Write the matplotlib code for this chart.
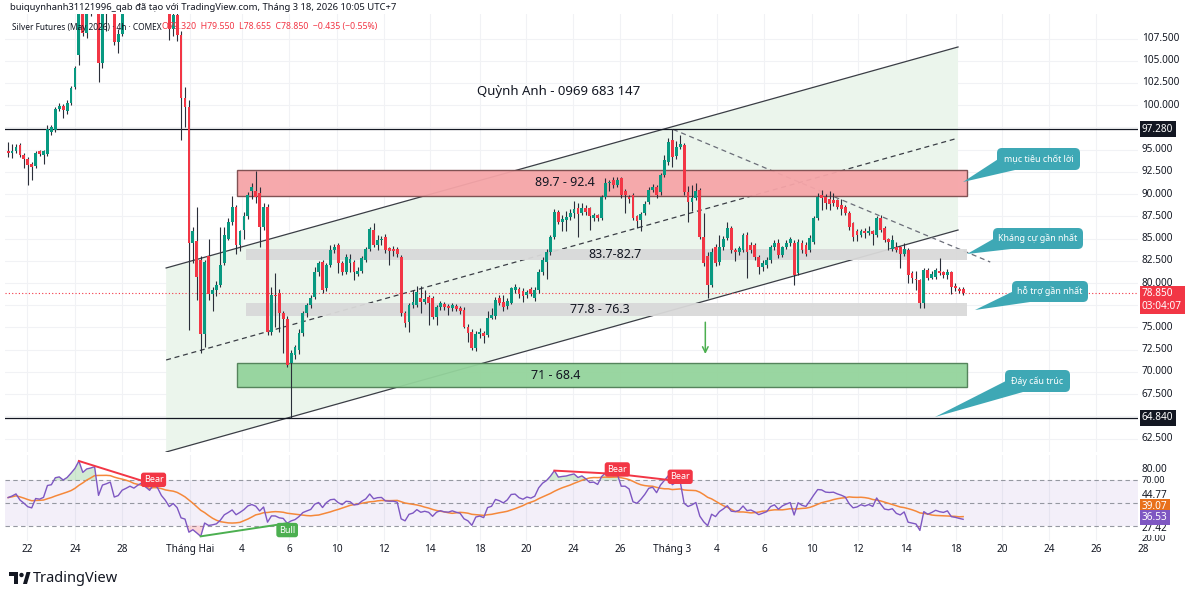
import numpy as np
import pandas as pd
import matplotlib
matplotlib.use('Agg')
import matplotlib.pyplot as plt
import matplotlib.transforms as mtransforms
from matplotlib.patches import Rectangle, Polygon, FancyBboxPatch, Circle

plt.rcParams['font.family'] = ['Noto Sans', 'DejaVu Sans']

# ---- 4h candles, Silver Futures ----
opens = [
    94.8, 94.6, 94.8, 95.5, 94.4, 94.0, 93.4, 93.2, 94.8, 94.4,
    94.5, 97.0, 97.2, 99.6, 99.9, 99.3, 100.3, 102.0, 105.6, 110.8,
    108.1, 110.8, 111.6, 112.8, 104.7, 111.2, 112.2, 112.5, 107.1, 108.0,
    111.6, 113.0, 114.6, 113.8, 115.9, 117.6, 116.1, 114.8, 118.9, 117.6,
    114.3, 112.0, 108.6, 110.2, 107.9, 100.8, 99.8, 84.5, 84.7, 82.6,
    74.3, 83.0, 78.8, 79.2, 79.8, 82.2, 85.0, 86.9, 88.6, 84.3,
    86.0, 87.5, 90.3, 90.3, 90.1, 86.3, 88.6, 74.5, 78.6, 78.9,
    76.6, 76.0, 71.0, 71.9, 72.5, 74.4, 76.6, 77.5, 78.4, 81.2,
    82.4, 79.4, 82.0, 83.7, 84.3, 82.2, 81.2, 82.3, 82.4, 81.0,
    81.3, 82.6, 83.8, 86.0, 84.3, 84.8, 85.2, 83.9, 83.8, 83.8,
    82.9, 76.6, 75.6, 77.5, 77.5, 78.3, 77.9, 78.4, 78.3, 76.2,
    77.3, 77.6, 77.4, 77.2, 77.4, 77.2, 77.0, 75.1, 74.5, 72.7,
    74.3, 74.4, 74.2, 76.1, 76.3, 78.3, 77.9, 77.4, 77.8, 79.2,
    79.3, 79.1, 78.6, 79.3, 78.3, 79.2, 81.2, 82.4, 83.5, 85.2,
    88.0, 86.9, 87.1, 87.4, 87.9, 88.4, 87.9, 88.4, 88.4, 87.3,
    87.6, 87.3, 89.7, 91.2, 91.6, 91.0, 91.8, 90.4, 89.7, 89.9,
    87.5, 87.1, 87.9, 89.1, 90.5, 90.8, 90.2, 92.1, 93.6, 96.1,
    94.3, 95.3, 95.5, 90.2, 89.1, 89.6, 90.5, 85.2, 83.0, 79.8,
    84.1, 82.4, 84.0, 85.1, 86.2, 83.7, 83.5, 83.7, 85.4, 84.3,
    84.3, 82.9, 81.8, 82.0, 82.6, 84.0, 84.5, 83.1, 84.0, 84.5,
    84.5, 81.1, 84.5, 84.3, 83.7, 84.6, 87.3, 89.9, 89.7, 89.5,
    89.3, 89.3, 88.8, 88.6, 87.9, 86.7, 85.9, 85.4, 85.9, 85.6,
    85.8, 85.4, 87.3, 86.2, 84.9, 83.8, 84.0, 84.0, 83.3, 83.7,
    81.1, 80.5, 80.3, 77.8, 81.5, 80.6, 80.7, 81.3, 81.2, 80.9,
    81.2, 79.7, 79.3, 79.32,
]
highs = [
    95.9, 95.6, 95.6, 95.8, 94.6, 94.2, 93.6, 94.8, 95.0, 95.0,
    97.8, 97.8, 99.8, 100.2, 100.1, 100.6, 102.2, 104.4, 111.0, 111.5,
    111.3, 112.4, 113.5, 113.2, 111.8, 113.0, 114.2, 113.0, 108.6, 112.2,
    113.8, 115.2, 115.5, 116.4, 118.2, 118.5, 116.8, 119.4, 121.2, 118.1,
    115.0, 112.5, 111.0, 110.8, 108.3, 102.0, 100.6, 86.3, 88.6, 83.0,
    82.6, 85.0, 79.6, 80.2, 86.3, 86.3, 87.3, 89.8, 88.8, 86.0,
    88.0, 90.2, 91.2, 92.6, 90.8, 89.0, 88.9, 79.5, 81.1, 79.3,
    76.8, 76.3, 72.5, 73.0, 74.8, 76.9, 77.8, 78.6, 81.8, 82.5,
    82.6, 82.3, 84.3, 84.4, 84.5, 82.5, 83.3, 83.3, 82.6, 81.8,
    83.0, 84.1, 86.3, 86.8, 85.4, 85.3, 85.5, 84.0, 84.2, 84.0,
    83.2, 76.9, 77.8, 79.2, 79.7, 79.7, 79.2, 78.6, 78.5, 77.5,
    78.0, 77.9, 77.6, 77.8, 77.6, 77.4, 77.3, 75.4, 74.8, 74.6,
    74.9, 74.6, 76.8, 77.2, 78.4, 78.6, 78.7, 78.3, 79.6, 79.9,
    79.5, 79.4, 79.2, 79.5, 79.5, 81.6, 82.9, 83.8, 85.4, 88.3,
    88.2, 87.6, 88.1, 88.3, 89.2, 89.0, 89.0, 88.8, 88.6, 87.9,
    87.8, 89.9, 91.8, 91.6, 91.9, 91.9, 91.9, 90.6, 89.9, 90.1,
    87.7, 88.0, 89.2, 90.8, 91.1, 91.0, 92.4, 94.4, 96.3, 97.28,
    96.0, 96.6, 95.8, 90.9, 91.0, 91.3, 90.7, 87.9, 83.5, 83.9,
    84.4, 85.4, 85.3, 86.9, 86.4, 83.9, 84.2, 85.6, 85.7, 84.6,
    84.5, 83.1, 82.6, 82.9, 84.3, 84.8, 84.9, 84.2, 84.8, 85.2,
    84.8, 84.9, 84.8, 84.6, 85.4, 87.5, 90.1, 90.5, 90.0, 90.3,
    90.1, 89.5, 89.4, 88.8, 88.1, 86.9, 86.1, 86.1, 86.2, 86.4,
    86.0, 87.5, 87.7, 86.4, 85.1, 85.4, 84.6, 84.2, 84.5, 83.9,
    81.3, 81.3, 80.5, 81.7, 81.7, 81.3, 81.7, 82.8, 81.4, 81.6,
    81.4, 80.0, 79.5, 79.55,
]
lows = [
    94.2, 94.1, 94.6, 94.2, 92.9, 91.0, 91.6, 92.9, 94.3, 93.4,
    94.3, 96.6, 97.0, 99.3, 98.6, 99.0, 100.0, 101.8, 104.5, 107.8,
    107.6, 110.0, 110.8, 102.6, 104.2, 108.4, 111.4, 106.8, 105.9, 107.8,
    111.0, 112.4, 112.9, 113.2, 115.1, 115.4, 114.3, 114.2, 117.0, 113.2,
    110.8, 107.3, 107.8, 107.2, 96.1, 97.5, 74.7, 82.2, 78.1, 72.1,
    72.8, 78.1, 76.8, 78.5, 79.5, 82.0, 84.8, 86.5, 83.3, 83.6,
    85.0, 87.2, 89.5, 89.0, 84.1, 86.0, 74.2, 74.2, 75.1, 74.5,
    72.1, 70.6, 64.84, 71.5, 72.0, 74.0, 76.2, 77.2, 78.2, 80.8,
    78.9, 79.1, 81.8, 83.4, 81.1, 80.9, 81.0, 81.2, 80.3, 80.8,
    81.1, 82.4, 83.6, 84.0, 83.7, 84.3, 83.4, 82.0, 83.0, 82.9,
    76.3, 75.0, 74.5, 77.2, 77.3, 76.6, 77.6, 75.3, 75.9, 75.3,
    77.0, 77.0, 76.4, 76.9, 76.8, 76.5, 74.9, 73.4, 72.5, 72.4,
    73.8, 73.2, 73.9, 75.9, 76.0, 77.5, 76.9, 77.1, 77.6, 78.9,
    78.3, 77.9, 78.3, 78.5, 78.0, 78.9, 80.9, 80.5, 83.2, 85.0,
    86.6, 85.9, 85.9, 87.1, 87.3, 85.2, 87.6, 87.7, 86.0, 87.0,
    87.0, 87.1, 89.5, 90.4, 90.7, 90.8, 89.6, 87.9, 89.0, 87.1,
    86.2, 85.8, 87.7, 88.9, 90.2, 89.6, 89.9, 91.9, 93.3, 93.0,
    93.9, 95.1, 89.9, 86.9, 88.1, 89.3, 85.0, 81.9, 78.3, 79.5,
    81.9, 82.0, 83.7, 84.8, 83.4, 82.5, 83.2, 83.5, 80.6, 83.4,
    82.6, 81.0, 81.3, 81.7, 82.3, 83.7, 82.8, 82.9, 83.8, 84.2,
    79.8, 80.9, 83.4, 83.0, 83.5, 84.4, 87.1, 88.2, 88.3, 88.2,
    88.7, 88.3, 87.7, 87.6, 86.0, 84.7, 84.7, 85.2, 85.1, 85.4,
    84.3, 85.2, 85.7, 84.6, 83.7, 83.6, 83.5, 81.7, 83.0, 80.0,
    80.0, 79.2, 77.2, 77.2, 80.3, 80.4, 80.5, 80.9, 80.6, 80.5,
    78.8, 79.1, 78.9, 78.655,
]
closes = [
    94.6, 94.9, 95.3, 94.4, 93.9, 93.3, 93.1, 94.6, 94.5, 94.8,
    97.3, 97.5, 99.6, 99.9, 99.5, 100.3, 101.9, 104.2, 110.3, 108.1,
    110.8, 111.6, 112.8, 104.7, 111.2, 112.2, 113.5, 107.1, 108.0, 111.6,
    113.0, 114.6, 113.8, 115.9, 117.6, 116.1, 114.8, 118.9, 117.6, 114.3,
    112.0, 108.6, 110.2, 107.9, 100.8, 99.8, 84.5, 85.8, 80.7, 74.3,
    82.4, 78.8, 79.2, 79.8, 82.0, 85.4, 86.9, 88.6, 84.3, 85.8,
    87.5, 89.9, 90.8, 89.7, 86.3, 88.6, 74.5, 78.6, 78.5, 76.6,
    76.0, 70.8, 72.1, 72.8, 74.4, 76.6, 77.5, 78.3, 81.2, 82.2,
    79.2, 82.0, 83.7, 84.0, 82.2, 81.2, 82.9, 82.7, 81.2, 81.4,
    82.8, 83.8, 86.1, 84.3, 84.8, 84.9, 83.7, 83.6, 83.6, 83.3,
    76.6, 75.5, 77.5, 77.9, 79.0, 77.9, 78.2, 77.8, 76.2, 77.3,
    77.7, 77.3, 77.2, 77.5, 77.1, 76.8, 75.1, 74.4, 72.7, 74.3,
    74.5, 74.0, 76.1, 76.4, 78.1, 77.8, 77.3, 78.0, 79.4, 79.5,
    78.8, 78.5, 79.0, 78.8, 79.2, 81.2, 82.6, 83.5, 85.2, 88.0,
    86.9, 87.2, 87.4, 87.9, 88.3, 87.8, 88.4, 88.0, 87.5, 87.6,
    87.3, 89.7, 91.2, 91.4, 91.0, 91.6, 89.9, 89.9, 89.5, 87.3,
    87.0, 87.8, 88.9, 90.5, 90.8, 89.9, 92.1, 93.8, 95.9, 94.2,
    95.3, 95.6, 90.2, 89.1, 89.6, 90.3, 85.2, 82.2, 79.8, 83.5,
    82.2, 84.0, 85.0, 86.2, 83.7, 83.5, 83.9, 85.4, 83.5, 83.7,
    82.9, 81.8, 82.2, 82.6, 84.0, 84.5, 83.1, 84.0, 84.5, 84.9,
    80.9, 84.6, 83.7, 83.3, 85.1, 87.3, 89.7, 89.6, 89.0, 88.9,
    89.0, 88.6, 88.3, 87.9, 86.3, 85.2, 85.4, 85.9, 85.6, 85.9,
    85.5, 87.3, 86.0, 84.8, 84.6, 84.8, 83.7, 83.3, 83.8, 80.9,
    80.6, 80.3, 77.8, 81.5, 80.6, 81.0, 81.5, 81.1, 80.9, 81.2,
    79.6, 79.4, 79.1, 78.85,
]

# time axis (candle index positions of the date labels)
time_labels = ['22', '24', '28', 'Tháng Hai', '4', '6', '10', '12', '14', '18', '20', '24',
               '26', 'Tháng 3', '4', '6', '10', '12', '14', '18', '20', '24', '26', '28']
time_pos = [4.8, 17.0, 29.0, 46.3, 59.5, 71.5, 83.7, 95.7, 107.4, 120.1, 131.8, 143.8,
            155.7, 169.0, 180.4, 192.4, 204.6, 216.3, 228.5, 241.2, 253.0, 264.9, 276.8, 288.8]

price_ticks = [62.5, 67.5, 70.0, 72.5, 75.0, 80.0, 82.5, 85.0, 87.5, 90.0, 92.5, 95.0,
               100.0, 102.5, 105.0, 107.5]
last_price = 78.85
level_high = 97.28
level_low = 64.84

# zones drawn on the chart: (label, low, high)
zones = [('89.7 - 92.4', 89.79, 92.71), ('83.7-82.7', 82.6, 83.82),
         ('77.8 - 76.3', 76.29, 77.75), ('71 - 68.4', 68.3, 71.0)]

# RSI seed (start of window) and divergence pivots
rsi_start_gain, rsi_start_loss = 0.40, 0.33
bear_pivots = [(18, 37), (139, 155), (155, 171)]
bull_pivots = [(49, 71)]

GREEN = '#089981'
RED = '#f23645'
WICK = '#2a2e39'
GRID = '#f1f2f5'
TEXT = '#131722'
TEAL = '#3ea8b5'

W, H = 1200, 599
fig = plt.figure(figsize=(12, 5.99), dpi=100)


def frame(l, t, r, b):
    return [l / W, 1 - b / H, (r - l) / W, (b - t) / H]


ax = fig.add_axes(frame(5, 14, 1138, 452))
rax = fig.add_axes(frame(5, 455, 1138, 541))
for a in (ax, rax):
    a.set_xlim(-0.8, 287.5)
    a.set_xticks([])
    a.set_yticks([])
    for s in a.spines.values():
        s.set_visible(False)
ax.set_ylim(60.99, 110.26)
rax.set_ylim(16.46, 92.37)

# grid
for p in time_pos:
    ax.axvline(p, color=GRID, lw=0.8, zorder=0)
    rax.axvline(p, color=GRID, lw=0.8, zorder=0)
for p in np.arange(62.5, 110, 2.5):
    ax.axhline(p, color=GRID, lw=0.8, zorder=0)

# parallel channel
x0c, x1c = 40.2, 241.7
ax.add_patch(Polygon([(x0c, 81.69), (x1c, 106.55), (x1c, 85.96), (x0c, 60.99)],
                     closed=True, fc='#ebf5ec', ec='none', zorder=1))
ax.plot([x0c, x1c], [81.69, 106.55], color='#3a3d45', lw=0.9, zorder=2)
ax.plot([x0c, x1c], [60.99, 85.96], color='#3a3d45', lw=0.9, zorder=2)
ax.plot([x0c, x1c], [71.34, 96.3], color='#3a3d45', lw=0.9, ls=(0, (4, 3)), zorder=2)
# falling dashed trendline from the top
ax.plot([169.2, 249.9], [97.28, 82.36], color='#6a6d78', lw=0.9, ls=(0, (4, 3)), zorder=2)

# zones
zone_style = [
    dict(fc='#f6a5a8', ec='#7b4b4d', x0=58.3),
    dict(fc='#d9d9d9', ec='none', x0=60.6),
    dict(fc='#d9d9d9', ec='none', x0=60.6),
    dict(fc='#94d49c', ec='#4f7f56', x0=58.3),
]
zone_text_x = [141.7, 154.5, 150.6, 139.2]
for (lab, lo, hi), st, tx in zip(zones, zone_style, zone_text_x):
    ax.add_patch(Rectangle((st['x0'], lo), 244.0 - st['x0'], hi - lo, fc=st['fc'],
                           ec=st['ec'], lw=1.0, zorder=2, alpha=0.95))
    ax.text(tx, (lo + hi) / 2, lab, ha='center', va='center', fontsize=9, color=TEXT, zorder=6)

# horizontal levels
ax.axhline(level_high, color=TEXT, lw=0.9, zorder=2)
ax.axhline(level_low, color=TEXT, lw=0.9, zorder=2)
ax.axhline(last_price, color=RED, lw=0.8, ls=(0, (1, 2)), zorder=2)

# candles
o, h, l, c = (np.array(v) for v in (opens, highs, lows, closes))
idx = np.arange(len(c))
col = np.where(c >= o, GREEN, RED)
ax.vlines(idx, l, h, colors=WICK, lw=0.8, zorder=3)
ax.bar(idx, np.maximum(np.abs(c - o), 0.08), bottom=np.minimum(o, c), width=0.72,
       color=col, lw=0, zorder=4)

ax.text(140, 101.5, 'Quỳnh Anh - 0969 683 147', ha='center', va='center', fontsize=9.5,
        color=TEXT, zorder=6)
ax.annotate('', xy=(177.4, 71.7), xytext=(177.4, 75.9),
            arrowprops=dict(arrowstyle='->', color='#4caf50', lw=1.1), zorder=6)

# price scale
ptr = mtransforms.blended_transform_factory(ax.transAxes, ax.transData)
xl = 1 + 4 / 1133
for p in price_ticks:
    ax.text(xl, p, f'{p:.3f}', transform=ptr, ha='left', va='center', fontsize=7.2,
            color=TEXT, clip_on=False)
for p in (level_high, level_low):
    ax.text(xl, p, f'{p:.3f}', transform=ptr, ha='left', va='center', fontsize=7.2,
            color='white', clip_on=False,
            bbox=dict(boxstyle='square,pad=0.25', fc=TEXT, ec='none'))
ax.text(xl, 79.4, f'{last_price:.3f}\n03:04:07', transform=ptr, ha='left', va='top',
        fontsize=7.2, color='white', linespacing=1.15, clip_on=False,
        bbox=dict(boxstyle='square,pad=0.25', fc=RED, ec='none'))

# ---- RSI ----
rsi = []
g, lo_ = rsi_start_gain, rsi_start_loss
rsi.append(100 - 100 / (1 + g / lo_))
for d in np.diff(c):
    g = (g * 13 + max(d, 0)) / 14
    lo_ = (lo_ * 13 + max(-d, 0)) / 14
    rsi.append(100 - 100 / (1 + g / lo_))
rsi = np.array(rsi)
rsi_ma = pd.Series(rsi).rolling(14, min_periods=1).mean().values

rax.axhspan(30, 70, color='#7e57c2', alpha=0.09, lw=0, zorder=0)
for lvl in (70, 50, 30):
    rax.axhline(lvl, color='#9598a1', lw=0.8, ls=(0, (4, 3)), zorder=1)
rax.fill_between(idx, rsi, 70, where=rsi > 70, interpolate=True, color='#4caf50',
                 alpha=0.25, lw=0, zorder=1)
rax.fill_between(idx, rsi, 30, where=rsi < 30, interpolate=True, color=RED,
                 alpha=0.2, lw=0, zorder=1)
rax.plot(idx, rsi_ma, color='#f5883a', lw=1.1, zorder=3)
rax.plot(idx, rsi, color='#7e57c2', lw=1.0, zorder=4)

for a_, b_ in bear_pivots:
    rax.plot([a_, b_], [rsi[a_], rsi[b_]], color=RED, lw=1.4, zorder=5)
    rax.text(b_, rsi[b_] + 4, 'Bear', ha='center', va='center', fontsize=6.5, color='white',
             zorder=6, bbox=dict(boxstyle='round,pad=0.3,rounding_size=0.3', fc=RED, ec='none'))
for a_, b_ in bull_pivots:
    rax.plot([a_, b_], [rsi[a_], rsi[b_]], color='#4caf50', lw=1.4, zorder=5)
    rax.text(b_, rsi[b_] - 6, 'Bull', ha='center', va='center', fontsize=6.5, color='white',
             zorder=6, bbox=dict(boxstyle='round,pad=0.3,rounding_size=0.3', fc='#4caf50', ec='none'))

rtr = mtransforms.blended_transform_factory(rax.transAxes, rax.transData)
rax.text(xl, 80, '80.00', transform=rtr, ha='left', va='center', fontsize=7.2, color=TEXT, clip_on=False)
rax.text(xl, 18.6, '20.00', transform=rtr, ha='left', va='center', fontsize=6.8, color=TEXT, clip_on=False)
rax.text(xl, 69.5, '70.00', transform=rtr, ha='left', va='center', fontsize=6.6, color=TEXT, clip_on=False)
rax.text(xl, 56.6, '44.77', transform=rtr, ha='left', va='center', fontsize=7.2, color=TEXT,
         clip_on=False, bbox=dict(boxstyle='square,pad=0.15', fc='white', ec='none'))
rax.text(xl, 27.6, '27.42', transform=rtr, ha='left', va='center', fontsize=7.2, color=TEXT,
         clip_on=False, bbox=dict(boxstyle='square,pad=0.15', fc='white', ec='none'))
rax.text(xl, 46.5, '39.07', transform=rtr, ha='left', va='center', fontsize=7.2, color='white',
         clip_on=False, bbox=dict(boxstyle='square,pad=0.2', fc='#e8701a', ec='none'))
rax.text(xl, 36.8, '36.53', transform=rtr, ha='left', va='center', fontsize=7.2, color='white',
         clip_on=False, bbox=dict(boxstyle='square,pad=0.2', fc='#7e57c2', ec='none'))

# time axis labels
ttr = mtransforms.blended_transform_factory(rax.transData, rax.transAxes)
for lab, p in zip(time_labels, time_pos):
    rax.text(p, -0.095, lab, transform=ttr, ha='center', va='center', fontsize=7.2,
             color=TEXT, clip_on=False, fontweight='bold' if 'Tháng' in lab else 'normal')

# ---- overlay: header, callouts, logo ----
ov = fig.add_axes([0, 0, 1, 1], zorder=10)
ov.set_xlim(0, W)
ov.set_ylim(H, 0)
ov.axis('off')
ov.patch.set_alpha(0)

ov.text(10, 7, 'buiquynhanh31121996_qab đã tạo với TradingView.com, Tháng 3 18, 2026 10:05 UTC+7',
        fontsize=6.8, color=TEXT, va='center')
ov.text(12, 27, 'Silver Futures (May 2026) · 4h · COMEX', fontsize=6.0, color=TEXT, va='center')
ov.text(162, 27, 'O79.320  H79.550  L78.655  C78.850  −0.435 (−0.55%)', fontsize=6.3,
        color=RED, va='center')

callouts = [
    ('mục tiêu chốt lời', (997, 148, 1080, 170), (963, 182)),
    ('Kháng cự gần nhất', (993, 228, 1083, 249), (967, 254)),
    ('hỗ trợ gần nhất', (1012, 281, 1088, 302), (975, 310)),
    ('Đáy cấu trúc', (1005, 370, 1070, 392), (935, 417)),
]
for txt, (bx0, by0, bx1, by1), (tx, ty) in callouts:
    ov.add_patch(Polygon([(bx0 + 3, by0 + (by1 - by0) * 0.45), (bx0 + 18, by1), (tx, ty)],
                         closed=True, fc=TEAL, ec='none'))
    ov.add_patch(FancyBboxPatch((bx0, by0), bx1 - bx0, by1 - by0,
                                boxstyle='round,pad=0,rounding_size=5', fc=TEAL, ec='none'))
    ov.text((bx0 + bx1) / 2, (by0 + by1) / 2, txt, color='white', fontsize=6.4,
            ha='center', va='center')

# TradingView logo
ov.add_patch(Rectangle((9, 572), 9, 4, fc=TEXT, ec='none'))
ov.add_patch(Rectangle((13.5, 572), 4.5, 12, fc=TEXT, ec='none'))
ov.add_patch(Circle((21.5, 575), 2.2, fc=TEXT, ec='none'))
ov.add_patch(Polygon([(23, 584), (26.5, 572), (30.5, 572), (27, 584)], closed=True, fc=TEXT, ec='none'))
ov.text(33, 578, 'TradingView', fontsize=10.5, fontweight='bold', color=TEXT, va='center')

fig.savefig('out.png', dpi=100, facecolor='white')
